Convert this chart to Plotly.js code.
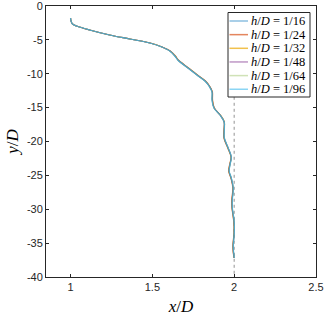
<!DOCTYPE html>
<html>
<head>
<meta charset="utf-8">
<script src="https://cdn.plot.ly/plotly-3.0.1.min.js"></script>
<style>html,body{margin:0;padding:0;background:#fff;}#chart{width:327px;height:317px;}</style>
</head>
<body>
<div id="chart"></div>
<script>
// Shared depth values y/D
var yD = [-1.77,-2.21,-2.66,-2.95,-3.54,-4.28,-4.87,-5.46,-6.05,-6.64,-7.38,-7.97,-9.15,-10.18,-11.07,-11.81,-12.69,-13.87,-15.06,-16.09,-17.12,-18.30,-19.48,-20.96,-22.29,-23.32,-24.35,-25.39,-26.86,-28.63,-29.67,-32.03,-33.51,-35.57,-37.2];
// x/D for each resolution
var x16 = [1.000,1.003,1.012,1.037,1.117,1.239,1.362,1.485,1.558,1.607,1.638,1.656,1.718,1.773,1.822,1.847,1.865,1.865,1.877,1.914,1.939,1.939,1.939,1.963,1.982,1.975,1.969,1.982,1.994,1.988,1.988,2.000,2.000,1.994,2.000];
var x24 = [1.000,1.003,1.012,1.037,1.117,1.239,1.363,1.487,1.560,1.610,1.641,1.659,1.721,1.776,1.825,1.849,1.867,1.868,1.879,1.915,1.939,1.937,1.937,1.961,1.981,1.973,1.966,1.980,1.992,1.985,1.986,1.998,1.999,1.992,1.999];
var x32 = [1.000,1.003,1.012,1.037,1.117,1.239,1.363,1.486,1.559,1.608,1.640,1.658,1.720,1.775,1.824,1.848,1.866,1.867,1.878,1.915,1.940,1.938,1.938,1.962,1.981,1.974,1.967,1.981,1.993,1.987,1.987,1.999,1.999,1.993,1.999];
var x48 = [1.000,1.003,1.012,1.037,1.117,1.239,1.362,1.485,1.559,1.608,1.639,1.657,1.719,1.774,1.823,1.848,1.866,1.866,1.878,1.914,1.939,1.939,1.939,1.963,1.982,1.975,1.968,1.981,1.993,1.987,1.987,2.000,2.000,1.993,2.000];
var x64 = [1.000,1.003,1.012,1.037,1.117,1.238,1.362,1.485,1.558,1.607,1.638,1.656,1.718,1.773,1.822,1.847,1.865,1.865,1.877,1.914,1.939,1.940,1.940,1.963,1.982,1.976,1.969,1.982,1.994,1.988,1.988,2.001,2.000,1.994,2.000];
var x96 = [1.000,1.003,1.012,1.037,1.117,1.238,1.361,1.484,1.557,1.606,1.637,1.655,1.717,1.772,1.821,1.846,1.864,1.864,1.876,1.913,1.939,1.940,1.940,1.964,1.983,1.976,1.970,1.983,1.995,1.989,1.989,2.001,2.001,1.995,2.001];
var labels = ['1/16','1/24','1/32','1/48','1/64','1/96'];
var series = [x16,x24,x32,x48,x64,x96];
var colors = ['rgba(0,114,189,0.45)','rgba(217,83,25,0.7)','rgba(237,177,32,0.8)','rgba(126,47,142,0.5)','rgba(119,172,48,0.35)','rgba(77,190,238,0.65)'];
var drawOrder = [1,2,3,4,0,5];
// Reference vertical line x/D = 2
var refX = [2, 2];
var refY = [-13.4, -40];
var xTicks = [1, 1.5, 2, 2.5];
var xTickText = ['1','1.5','2','2.5'];
var yTicks = [0,-5,-10,-15,-20,-25,-30,-35,-40];
var yTickText = ['0','-5','-10','-15','-20','-25','-30','-35','-40'];

var W = 327, H = 317, M = {l: 46, r: 11, t: 6, b: 40};
var pw = W - M.l - M.r, ph = H - M.t - M.b;
function px(x){ return (x - M.l) / pw; }
function py(y){ return 1 - (y - M.t) / ph; }

var traces = [{
  x: refX, y: refY, mode: 'lines', showlegend: false, hoverinfo: 'skip',
  line: {color: 'rgba(110,110,110,0.75)', width: 1, dash: 'dot'}
}];
drawOrder.forEach(function(i){
  traces.push({
    x: series[i], y: yD, mode: 'lines', showlegend: false,
    line: {color: colors[i], width: 1.2, shape: 'spline'}
  });
});

// Manual legend
var shapes = [{
  type: 'rect', xref: 'paper', yref: 'paper',
  x0: px(228), x1: px(310), y0: py(97), y1: py(12.5),
  fillcolor: '#fff', line: {color: '#262626', width: 1}, layer: 'above'
}];
var annotations = [];
labels.forEach(function(lab, i){
  var yc = 21 + 13.65 * i;
  shapes.push({
    type: 'line', xref: 'paper', yref: 'paper',
    x0: px(229.5), x1: px(248), y0: py(yc), y1: py(yc),
    line: {color: colors[i], width: 1.5}, layer: 'above'
  });
  annotations.push({
    xref: 'paper', yref: 'paper', x: px(248.5), y: py(yc),
    xanchor: 'left', yanchor: 'middle', showarrow: false,
    text: '<i>h</i>/<i>D</i> = ' + lab,
    font: {family: 'Liberation Serif, serif', size: 12.5, color: '#000'}
  });
});

var axisCommon = {
  showgrid: false, zeroline: false, showline: true, linecolor: '#262626', linewidth: 1,
  mirror: 'ticks', ticks: 'inside', ticklen: 3, tickcolor: '#262626',
  ticklabeloverflow: 'allow',
  tickfont: {family: 'Liberation Sans, Arial, sans-serif', size: 11, color: '#262626'}
};
var layout = {
  width: W, height: H, margin: M,
  paper_bgcolor: '#fff', plot_bgcolor: '#fff',
  showlegend: false,
  shapes: shapes, annotations: annotations,
  xaxis: Object.assign({}, axisCommon, {
    range: [0.85, 2.5001], tickvals: xTicks, ticktext: xTickText,
    title: {text: '<i>x</i>/<i>D</i>', font: {family: 'Liberation Serif, serif', size: 17, color: '#000'}, standoff: 7}
  }),
  yaxis: Object.assign({}, axisCommon, {
    range: [-40.0001, 0.0001], tickvals: yTicks, ticktext: yTickText,
    title: {text: '<i>y</i>/<i>D</i>', font: {family: 'Liberation Serif, serif', size: 17, color: '#000'}, standoff: 3}
  })
};
Plotly.newPlot('chart', traces, layout, {displayModeBar: false, staticPlot: true});
</script>
</body>
</html>
